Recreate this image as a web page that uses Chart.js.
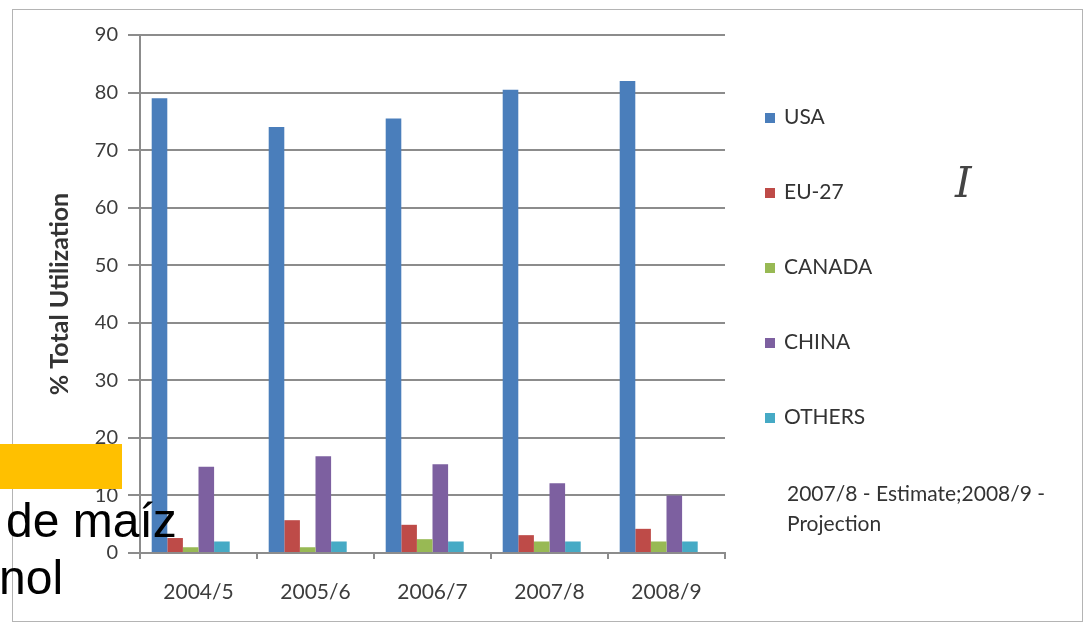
<!DOCTYPE html>
<html>
<head>
<meta charset="utf-8">
<script src="https://cdn.jsdelivr.net/npm/chart.js@4"></script>
<style>
  html, body { margin: 0; padding: 0; background: #fff; }
  #wrap { position: relative; width: 1086px; height: 629px; overflow: hidden; }
  #frame { position: absolute; left: 12px; top: 9px; width: 1071px; height: 613px; border: 1px solid #b4b4b4; box-sizing: border-box; }
  canvas { position: absolute; left: 0; top: 0; }
  .leg { position: absolute; left: 765px; height: 30px; line-height: 30px; font: 21px Lato, sans-serif; color: #333; white-space: nowrap; }
  .leg i { display: inline-block; width: 10px; height: 10px; margin-right: 9px; vertical-align: 1px; }
  #note { position: absolute; left: 787px; top: 478px; font: 21px Lato, sans-serif; color: #333; line-height: 30px; white-space: nowrap; }
  #cursor { position: absolute; left: 955px; top: 158px; font: italic 42px "DejaVu Serif", serif; color: #444; }
  #yellow { position: absolute; left: 0; top: 444px; width: 122px; height: 45px; background: #FFC000; }
  .over { position: absolute; font: 48px "Liberation Sans", Arial, sans-serif; color: #000; white-space: nowrap; }
</style>
</head>
<body>
<div id="wrap">
  <div id="frame"></div>
  <canvas id="myChart" width="1086" height="629"></canvas>
  <div id="legend"></div>
  <div id="note"></div>
  <div id="cursor">I</div>
  <div id="yellow"></div>
  <div class="over" style="left:6px; top:493px;">de maíz</div>
  <div class="over" style="left:-1px; top:550px;">nol</div>
</div>
<script>
let years = ['2004/5', '2005/6', '2006/7', '2007/8', '2008/9'];
let usa = [79, 74, 75.5, 80.5, 82];
let eu27 = [2.6, 5.7, 4.9, 3.1, 4.2];
let canada = [1, 1, 2.4, 2, 2];
let china = [15, 16.8, 15.4, 12.1, 10];
let others = [2, 2, 2, 2, 2];
// empty series, only shows up as the note line in the legend
let projection = [null, null, null, null, null];
let names = ['USA', 'EU-27', 'CANADA', 'CHINA', 'OTHERS'];
let noteLabel = ['2007/8 - Estimate;2008/9 -', 'Projection'];
let colors = ['#4A7EBB', '#BE4B48', '#98B954', '#7D60A0', '#46AAC5'];
let legendY = [118, 193, 268, 343, 418];

let series = [usa, eu27, canada, china, others];

let datasets = series.map((s, i) => ({
    label: names[i],
    data: s,
    backgroundColor: colors[i],
    categoryPercentage: 0.8,
    barPercentage: 1
}));
datasets.push({
    label: noteLabel.join(' '),
    data: projection,
    backgroundColor: 'rgba(0,0,0,0)',
    categoryPercentage: 0.8,
    barPercentage: 1
});

let ctx = document.getElementById("myChart").getContext('2d');

let chart = new Chart(ctx, {
    type: 'bar',
    data: {
        labels: years,
        datasets: datasets
    },
    options: {
        responsive: false,
        animation: false,
        layout: { padding: { left: 0, top: 35, right: 361, bottom: 0 } },
        plugins: {
            legend: { display: false },
            tooltip: { enabled: false }
        },
        scales: {
            x: {
                afterFit: s => { s.height = 76; },
                grid: { offset: true, drawOnChartArea: false, tickLength: 6, color: '#8c8c8c', lineWidth: 2 },
                border: { color: '#8c8c8c', width: 2 },
                ticks: { font: { family: 'Lato', size: 21 }, color: '#3c3c3c', padding: 21 }
            },
            y: {
                min: 0,
                max: 90,
                afterFit: s => { s.width = 140; },
                ticks: { stepSize: 10, font: { family: 'Lato', size: 20 }, color: '#3c3c3c', padding: 10 },
                grid: { color: '#8c8c8c', lineWidth: 2, tickLength: 12 },
                border: { color: '#8c8c8c', width: 2 },
                title: {
                    display: true,
                    text: '% Total Utilization',
                    font: { family: 'Lato', size: 25, weight: 'bold' },
                    color: '#333',
                    padding: { top: 45, bottom: 0 }
                }
            }
        }
    }
});

// legend, built from the same names and colours
let legend = document.getElementById('legend');
names.forEach((n, i) => {
    let d = document.createElement('div');
    d.className = 'leg';
    d.style.top = (legendY[i] - 15) + 'px';
    d.innerHTML = '<i style="background:' + colors[i] + '"></i>' + n;
    legend.appendChild(d);
});
document.getElementById('note').innerHTML = noteLabel.join('<br>');
</script>
</body>
</html>
